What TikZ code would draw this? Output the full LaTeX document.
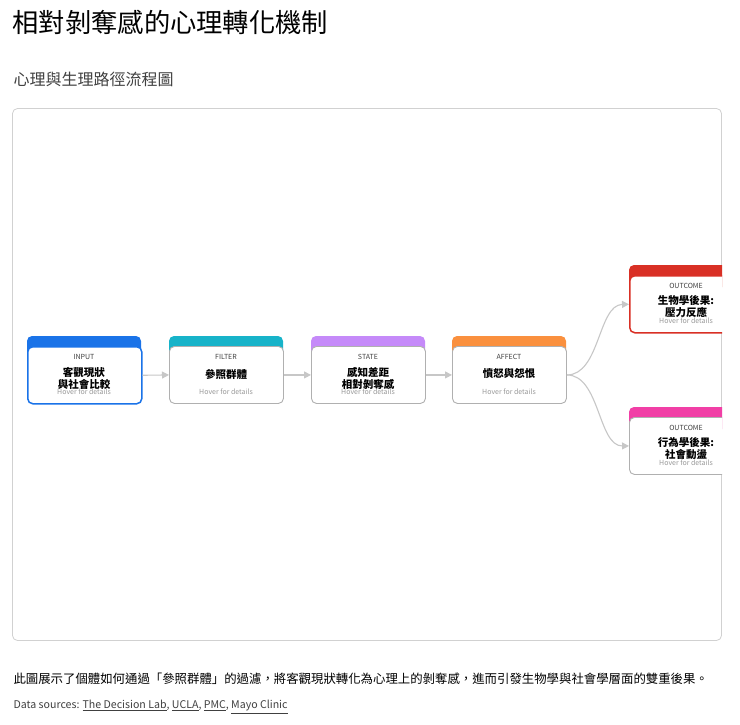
\documentclass[tikz,border=0pt]{standalone}
\usepackage{fontspec}
\setmainfont{Noto Sans CJK TC}
\usetikzlibrary{arrows.meta}
\definecolor{cin}{HTML}{1A73E8}
\definecolor{cfi}{HTML}{17B3C9}
\definecolor{cst}{HTML}{C58AF9}
\definecolor{caf}{HTML}{FA903E}
\definecolor{co1}{HTML}{D93025}
\definecolor{co2}{HTML}{F13FA6}
\definecolor{gborder}{HTML}{B0B0B0}
\tikzset{
  x=1pt,y=-1pt,
  lbl/.style={font=\fontsize{7}{8}\selectfont, text=black!75},
  ttl/.style={font=\fontsize{10.5}{12}\selectfont\bfseries, align=center},
  hov/.style={font=\fontsize{7}{8}\selectfont, text=black!40},
  conn/.style={draw=black!22, line width=1.1pt, -{Triangle[length=7pt,width=7pt]}},
}
\newcommand{\flowbox}[9]{%
  \fill[#4, rounded corners=5pt] (#2,#3) rectangle ++(114,22);
  \node[draw=#5, line width=#9, fill=white, rounded corners=5pt, minimum width=114pt, minimum height=57pt, anchor=north west, inner sep=0pt] (#1) at (#2,#3+10) {};
  \node[lbl] (#1l) at (#2+57,#3+21) {#6};
  \node[ttl] (#1t) at (#2+57,#3+#8) {#7};
  \node[hov] (#1h) at (#2+57,#3+56) {Hover for details};
}
\begin{document}
\begin{tikzpicture}
\useasboundingbox (0,0) rectangle (740,724);
\fill[white] (0,0) rectangle (740,724);
\node[anchor=west, font=\fontsize{26.3}{29}\selectfont] (title) at (9,22) {相對剝奪感的心理轉化機制};
\node[anchor=west, font=\fontsize{16}{18}\selectfont, text=black!75] (sub) at (10,79) {心理與生理路徑流程圖};
\draw[draw=black!18, line width=0.8pt, rounded corners=5pt] (12.5,108.5) rectangle (721.5,640.5);
\begin{scope}
\clip (0,100) rectangle (722,650);
\flowbox{in}{27}{336}{cin}{cin}{INPUT}{客觀現狀\\與社會比較}{42}{1.5pt}
\flowbox{fi}{169}{336}{cfi}{gborder}{FILTER}{參照群體}{38}{0.9pt}
\flowbox{st}{311}{336}{cst}{gborder}{STATE}{感知差距\\相對剝奪感}{42}{0.9pt}
\flowbox{af}{452}{336}{caf}{gborder}{AFFECT}{憤怒與怨恨}{38}{0.9pt}
\flowbox{o1}{629}{265}{co1}{co1}{OUTCOME}{生物學後果:\\壓力反應}{42}{1.5pt}
\flowbox{o2}{629}{407}{co2}{gborder}{OUTCOME}{行為學後果:\\社會動盪}{42}{0.9pt}
\end{scope}
\draw[conn] (in.east) -- (fi.west);
\draw[conn] (fi.east) -- (st.west);
\draw[conn] (st.east) -- (af.west);
\draw[conn] (af.east) .. controls (600,375) and (598,305) .. (o1.west);
\draw[conn] (af.east) .. controls (600,375) and (598,446) .. (o2.west);
\node[anchor=west, font=\fontsize{12.4}{14}\selectfont] (desc) at (10,679) {此圖展示了個體如何通過「參照群體」的過濾，將客觀現狀轉化為心理上的剝奪感，進而引發生物學與社會學層面的雙重後果。};
\node[anchor=west, font=\fontsize{10.6}{12}\selectfont, text=black!75] (src) at (10,707) {Data sources: \underline{The Decision Lab}, \underline{UCLA}, \underline{PMC}, \underline{Mayo Clinic}};
\end{tikzpicture}
\end{document}
